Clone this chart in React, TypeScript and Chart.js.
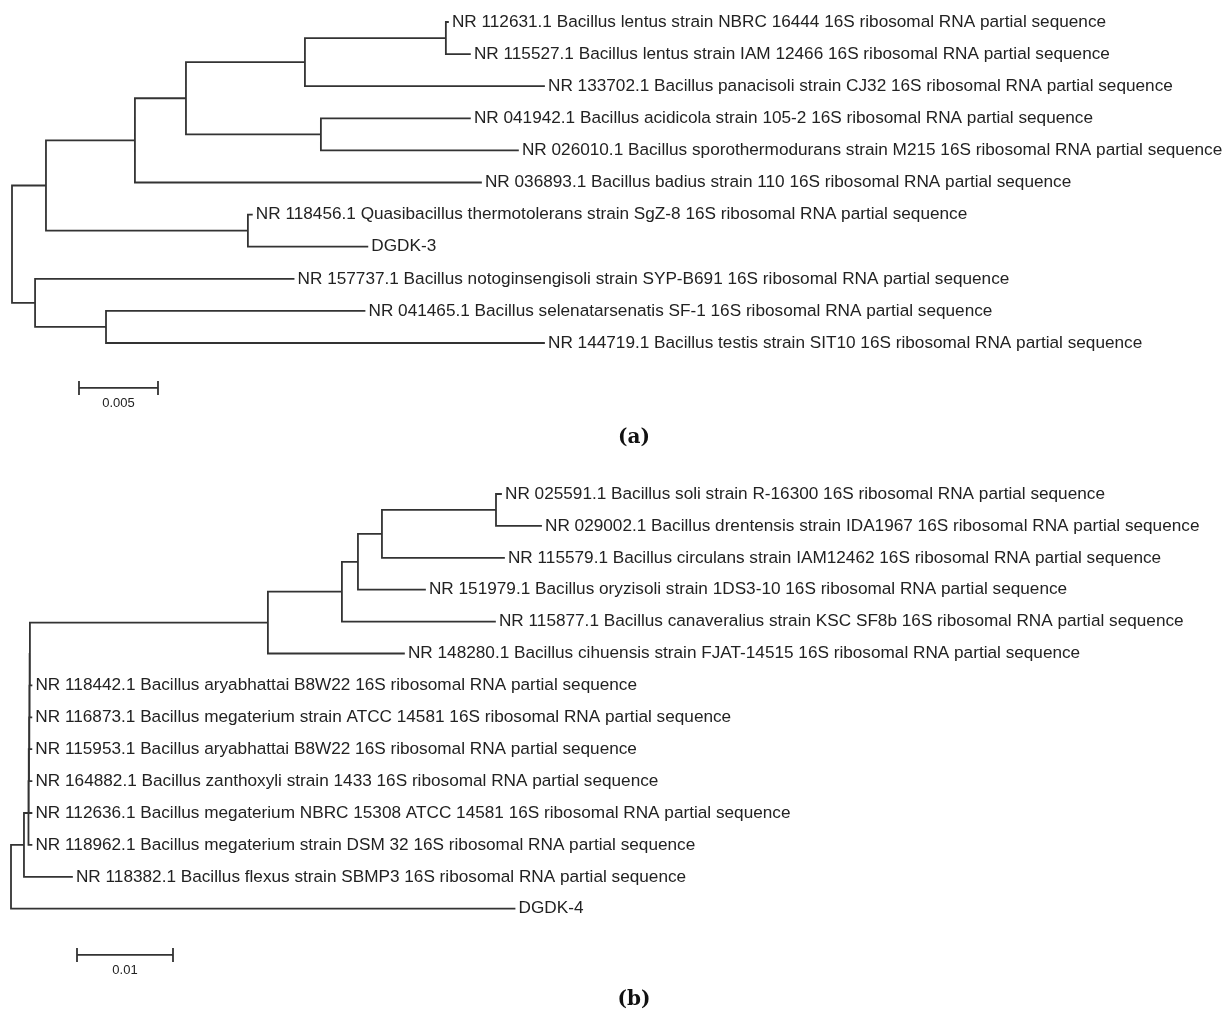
import React, { useEffect, useRef } from "react";
import { Chart, registerables } from "chart.js";

Chart.register(...registerables);

const W = 1230;
const H = 1015;

// ---------- Tree (a) ----------
const labelsA = [
  "NR 112631.1 Bacillus lentus strain NBRC 16444 16S ribosomal RNA partial sequence",
  "NR 115527.1 Bacillus lentus strain IAM 12466 16S ribosomal RNA partial sequence",
  "NR 133702.1 Bacillus panacisoli strain CJ32 16S ribosomal RNA partial sequence",
  "NR 041942.1 Bacillus acidicola strain 105-2 16S ribosomal RNA partial sequence",
  "NR 026010.1 Bacillus sporothermodurans strain M215 16S ribosomal RNA partial sequence",
  "NR 036893.1 Bacillus badius strain 110 16S ribosomal RNA partial sequence",
  "NR 118456.1 Quasibacillus thermotolerans strain SgZ-8 16S ribosomal RNA partial sequence",
  "DGDK-3",
  "NR 157737.1 Bacillus notoginsengisoli strain SYP-B691 16S ribosomal RNA partial sequence",
  "NR 041465.1 Bacillus selenatarsenatis SF-1 16S ribosomal RNA partial sequence",
  "NR 144719.1 Bacillus testis strain SIT10 16S ribosomal RNA partial sequence",
];
// edges: parent -> child (children listed top to bottom), branch length (substitutions/site)
const parentA = ["r", "A", "A1", "A11", "A111", "L", "L", "A111", "A11", "A112", "A112", "A1", "A", "Q", "Q", "r", "B", "B", "B2", "B2"];
const childA = ["A", "A1", "A11", "A111", "L", "t0", "t1", "t2", "A112", "t3", "t4", "t5", "Q", "t6", "t7", "B", "t8", "B2", "t9", "t10"];
const lengthA = [0.00215, 0.00563, 0.00323, 0.00753, 0.00892, 0.00013, 0.00152, 0.01513, 0.00854, 0.00943, 0.01247, 0.0219, 0.01278, 0.00025, 0.00756, 0.00146, 0.01636, 0.00449, 0.01636, 0.02772];
const scaleBarA = 0.005;
const scaleBarLabelA = "0.005";

// ---------- Tree (b) ----------
const labelsB = [
  "NR 025591.1 Bacillus soli strain R-16300 16S ribosomal RNA partial sequence",
  "NR 029002.1 Bacillus drentensis strain IDA1967 16S ribosomal RNA partial sequence",
  "NR 115579.1 Bacillus circulans strain IAM12462 16S ribosomal RNA partial sequence",
  "NR 151979.1 Bacillus oryzisoli strain 1DS3-10 16S ribosomal RNA partial sequence",
  "NR 115877.1 Bacillus canaveralius strain KSC SF8b 16S ribosomal RNA partial sequence",
  "NR 148280.1 Bacillus cihuensis strain FJAT-14515 16S ribosomal RNA partial sequence",
  "NR 118442.1 Bacillus aryabhattai B8W22 16S ribosomal RNA partial sequence",
  "NR 116873.1 Bacillus megaterium strain ATCC 14581 16S ribosomal RNA partial sequence",
  "NR 115953.1 Bacillus aryabhattai B8W22 16S ribosomal RNA partial sequence",
  "NR 164882.1 Bacillus zanthoxyli strain 1433 16S ribosomal RNA partial sequence",
  "NR 112636.1 Bacillus megaterium NBRC 15308 ATCC 14581 16S ribosomal RNA partial sequence",
  "NR 118962.1 Bacillus megaterium strain DSM 32 16S ribosomal RNA partial sequence",
  "NR 118382.1 Bacillus flexus strain SBMP3 16S ribosomal RNA partial sequence",
  "DGDK-4",
];
const parentB = ["r", "X", "N6", "N5", "N4", "N3", "N2", "N1", "C", "D", "E", "F", "G", "G", "F", "E", "D", "C", "N1", "N2", "N3", "N4", "N5", "N6", "X", "r"];
const childB = ["X", "N6", "N5", "N4", "N3", "N2", "N1", "C", "D", "E", "F", "G", "t0", "t1", "t2", "t3", "t4", "t5", "t6", "t7", "t8", "t9", "t10", "t11", "t12", "t13"];
const lengthB = [0.00135, 0.00047, 0.00003, 0.00003, 0.00003, 0.00003, 0.00003, 0.02479, 0.00771, 0.00167, 0.0025, 0.01188, 0.00052, 0.00469, 0.01271, 0.00698, 0.01594, 0.01417, 0.00016, 0.00018, 0.00021, 0.00025, 0.00028, 0.00031, 0.005, 0.05245];
const scaleBarB = 0.01;
const scaleBarLabelB = "0.01";

const captions = ["(a)", "(b)"];

// ---------- layout helpers ----------
type Layout = { x: Record<string, number>; y: Record<string, number>; kids: Record<string, string[]> };

function layoutTree(parents: string[], children: string[], lengths: number[]): Layout {
  const kids: Record<string, string[]> = {};
  const len: Record<string, number> = {};
  parents.forEach((p, i) => {
    (kids[p] = kids[p] || []).push(children[i]);
    len[children[i]] = lengths[i];
  });
  const x: Record<string, number> = {};
  const y: Record<string, number> = {};
  const visit = (n: string, d: number) => {
    x[n] = d;
    const k = kids[n];
    if (!k) {
      y[n] = Number(n.slice(1));
      return;
    }
    k.forEach((c) => visit(c, d + len[c]));
    y[n] = (y[k[0]] + y[k[k.length - 1]]) / 2;
  };
  visit("r", 0);
  return { x, y, kids };
}

function treeSegments(L: Layout) {
  const pts: { x: number; y: number | null }[] = [];
  const gap = () => pts.push({ x: 0, y: null });
  Object.keys(L.kids).forEach((n) => {
    const k = L.kids[n];
    pts.push({ x: L.x[n], y: L.y[k[0]] }, { x: L.x[n], y: L.y[k[k.length - 1]] });
    gap();
    k.forEach((c) => {
      pts.push({ x: L.x[n], y: L.y[c] }, { x: L.x[c], y: L.y[c] });
      gap();
    });
  });
  return pts;
}

// plot geometry (pixels per unit, origins)
const pxPerUnitA = 15800;
const rootPxA = 12;
const rowPxA = 32.1;
const firstRowPxA = 22;
const pxPerUnitB = 9600;
const rootPxB = 11;
const rowPxB = 31.9;
const firstRowPxB = 494;
const barStartA = 0.00424;
const barRowA = 11.4;
const barStartB = 0.006875;
const barRowB = 14.45;
const tickHalf = 0.19;

function scaleBar(start: number, len: number, row: number) {
  return [
    { x: start, y: row - tickHalf },
    { x: start, y: row + tickHalf },
    { x: start, y: null },
    { x: start, y: row },
    { x: start + len, y: row },
    { x: start, y: null },
    { x: start + len, y: row - tickHalf },
    { x: start + len, y: row + tickHalf },
  ];
}

export default function App() {
  const ref = useRef<HTMLCanvasElement | null>(null);

  useEffect(() => {
    if (!ref.current) return;
    const LA = layoutTree(parentA, childA, lengthA);
    const LB = layoutTree(parentB, childB, lengthB);
    const lineColor = "#333333";
    const ds = (data: any[], xId: string, yId: string) => ({
      data,
      xAxisID: xId,
      yAxisID: yId,
      showLine: true,
      spanGaps: false,
      borderColor: lineColor,
      borderWidth: 1.8,
      borderCapStyle: "square" as const,
      pointRadius: 0,
      pointHoverRadius: 0,
      tension: 0,
      clip: false as any,
    });

    const textPlugin = {
      id: "treeText",
      afterDatasetsDraw(chart: any) {
        const ctx = chart.ctx as CanvasRenderingContext2D;
        const xA = chart.scales.xA, yA = chart.scales.yA, xB = chart.scales.xB, yB = chart.scales.yB;
        ctx.save();
        ctx.fillStyle = "#222222";
        ctx.textBaseline = "middle";
        ctx.textAlign = "left";
        ctx.font = "17.2px 'Liberation Sans', Arial, sans-serif";
        labelsA.forEach((t, i) => {
          ctx.fillText(t, xA.getPixelForValue(LA.x["t" + i]) + 4, yA.getPixelForValue(i));
        });
        labelsB.forEach((t, i) => {
          ctx.fillText(t, xB.getPixelForValue(LB.x["t" + i]) + 4, yB.getPixelForValue(i));
        });
        ctx.font = "13px 'Liberation Sans', Arial, sans-serif";
        ctx.textAlign = "center";
        ctx.fillText(scaleBarLabelA, xA.getPixelForValue(barStartA + scaleBarA / 2), yA.getPixelForValue(barRowA) + 15);
        ctx.fillText(scaleBarLabelB, xB.getPixelForValue(barStartB + scaleBarB / 2), yB.getPixelForValue(barRowB) + 15);
        ctx.fillStyle = "#111111";
        ctx.font = "bold 20px 'DejaVu Serif', serif";
        ctx.fillText(captions[0], 634, 438);
        ctx.fillText(captions[1], 634, 1000);
        ctx.restore();
      },
    };

    const minXA = -rootPxA / pxPerUnitA;
    const minYA = -firstRowPxA / rowPxA;
    const minXB = -rootPxB / pxPerUnitB;
    const minYB = -firstRowPxB / rowPxB;
    const hidden = { display: false, bounds: "data" as const, grid: { display: false } };

    const chart = new Chart(ref.current, {
      type: "scatter",
      data: {
        datasets: [
          ds(treeSegments(LA), "xA", "yA"),
          ds(scaleBar(barStartA, scaleBarA, barRowA), "xA", "yA"),
          ds(treeSegments(LB), "xB", "yB"),
          ds(scaleBar(barStartB, scaleBarB, barRowB), "xB", "yB"),
        ] as any,
      },
      options: {
        responsive: false,
        animation: false,
        devicePixelRatio: 1,
        layout: { padding: 0 },
        plugins: { legend: { display: false }, tooltip: { enabled: false }, title: { display: false } },
        events: [],
        scales: {
          xA: { type: "linear", position: "bottom", min: minXA, max: minXA + W / pxPerUnitA, ...hidden },
          yA: { type: "linear", position: "left", reverse: true, min: minYA, max: minYA + H / rowPxA, ...hidden },
          xB: { type: "linear", position: "bottom", min: minXB, max: minXB + W / pxPerUnitB, ...hidden },
          yB: { type: "linear", position: "left", reverse: true, min: minYB, max: minYB + H / rowPxB, ...hidden },
        },
      } as any,
      plugins: [textPlugin],
    });
    return () => chart.destroy();
  }, []);

  return (
    <div style={{ position: "absolute", left: 0, top: 0, width: W, height: H, background: "#ffffff" }}>
      <canvas ref={ref} width={W} height={H} style={{ display: "block", width: W, height: H }} />
    </div>
  );
}
